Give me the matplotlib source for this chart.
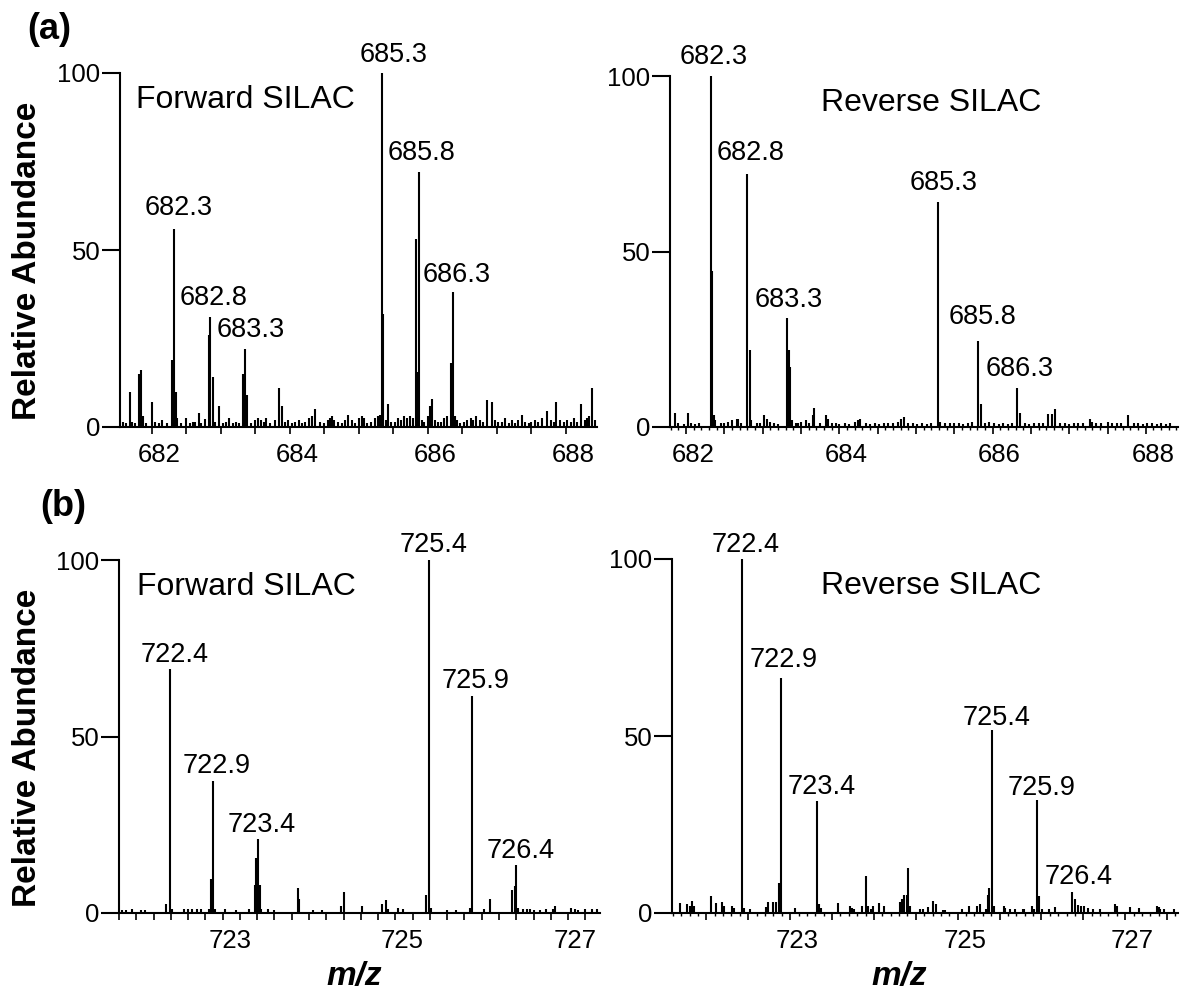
import matplotlib
matplotlib.use('Agg')
import matplotlib.pyplot as plt
from matplotlib.ticker import MultipleLocator, FuncFormatter
from matplotlib.transforms import ScaledTranslation

plt.rcParams['font.family'] = ['Liberation Sans', 'DejaVu Sans']

# --- Data: (a) Forward SILAC, m/z ~682-688 ---
a_fwd_mz = [681.58, 681.62, 681.68, 681.72, 681.76, 681.81, 681.84, 681.87, 681.92, 682.00,
            682.05, 682.10, 682.15, 682.22, 682.30, 682.32, 682.35, 682.37, 682.42, 682.50,
            682.55, 682.60, 682.63, 682.68, 682.72, 682.77, 682.83, 682.85, 682.88, 682.92,
            682.98, 683.03, 683.08, 683.12, 683.17, 683.22, 683.27, 683.32, 683.35, 683.38,
            683.44, 683.50, 683.54, 683.58, 683.62, 683.66, 683.72, 683.78, 683.84, 683.88,
            683.93, 683.98, 684.03, 684.08, 684.13, 684.18, 684.22, 684.28, 684.32, 684.37,
            684.44, 684.49, 684.55, 684.58, 684.61, 684.64, 684.70, 684.75, 684.80, 684.85,
            684.90, 684.95, 685.00, 685.04, 685.07, 685.12, 685.18, 685.24, 685.28, 685.31,
            685.33, 685.35, 685.39, 685.42, 685.47, 685.52, 685.57, 685.61, 685.65, 685.70,
            685.74, 685.78, 685.83, 685.85, 685.87, 685.91, 685.95, 686.00, 686.03, 686.06,
            686.10, 686.14, 686.19, 686.24, 686.28, 686.33, 686.37, 686.39, 686.42, 686.47,
            686.52, 686.57, 686.62, 686.66, 686.70, 686.75, 686.80, 686.86, 686.93, 686.97,
            687.02, 687.07, 687.12, 687.17, 687.22, 687.26, 687.31, 687.36, 687.41, 687.46,
            687.50, 687.55, 687.60, 687.65, 687.72, 687.78, 687.82, 687.86, 687.92, 687.97,
            688.02, 688.07, 688.12, 688.16, 688.22, 688.27, 688.31, 688.34, 688.38, 688.42]
a_fwd_int = [1.5, 1.0, 10.0, 1.5, 1.0, 15.0, 16.0, 3.0, 1.2, 7.0,
             1.5, 1.2, 2.0, 1.0, 19.0, 56.0, 10.0, 2.5, 1.0, 2.5,
             1.0, 1.5, 1.5, 4.0, 1.0, 2.2, 26.0, 31.0, 14.0, 1.5,
             6.0, 1.2, 1.5, 2.5, 1.0, 1.5, 1.0, 15.0, 22.0, 9.0,
             1.0, 2.0, 2.5, 2.0, 1.5, 2.5, 1.0, 2.0, 11.0, 6.0,
             1.5, 2.0, 1.0, 1.5, 2.0, 1.0, 1.5, 2.5, 3.0, 5.0,
             1.5, 1.0, 2.0, 2.5, 3.0, 2.0, 1.5, 1.0, 2.0, 3.4,
             2.0, 1.0, 2.5, 3.0, 2.5, 1.0, 1.5, 2.5, 3.0, 3.5,
             100.0, 32.0, 2.0, 6.5, 1.5, 1.5, 2.5, 2.0, 3.0, 2.5,
             3.0, 2.5, 53.0, 15.5, 72.0, 2.0, 1.5, 3.0, 6.0, 8.0,
             2.0, 1.5, 1.5, 2.5, 3.0, 18.0, 38.0, 3.0, 2.0, 1.0,
             1.5, 2.0, 2.5, 2.0, 3.0, 2.0, 1.5, 7.5, 7.0, 2.0,
             1.5, 1.5, 2.5, 1.0, 2.0, 1.0, 2.0, 3.4, 1.5, 1.0,
             1.5, 2.0, 1.5, 2.5, 4.5, 2.0, 1.5, 7.0, 2.0, 1.5,
             2.0, 1.5, 2.5, 1.5, 6.5, 2.0, 2.5, 3.0, 11.0, 2.0]
a_fwd_lab_mz = [682.32, 682.85, 683.35, 685.33, 685.87, 686.37]
a_fwd_lab_int = [56, 31, 22, 100, 72, 38]
a_fwd_lab_txt = ['682.3', '682.8', '683.3', '685.3', '685.8', '686.3']

# --- Data: (a) Reverse SILAC ---
a_rev_mz = [681.85, 681.90, 681.97, 682.03, 682.07, 682.12, 682.17, 682.32, 682.34, 682.36,
            682.38, 682.45, 682.50, 682.55, 682.60, 682.66, 682.68, 682.72, 682.80, 682.83,
            682.85, 682.92, 682.96, 683.02, 683.05, 683.10, 683.15, 683.20, 683.32, 683.34,
            683.36, 683.38, 683.43, 683.46, 683.50, 683.56, 683.60, 683.65, 683.67, 683.75,
            683.83, 683.85, 683.90, 683.95, 684.00, 684.08, 684.12, 684.20, 684.24, 684.27,
            684.35, 684.40, 684.46, 684.52, 684.58, 684.64, 684.70, 684.76, 684.80, 684.84,
            684.90, 684.96, 685.02, 685.08, 685.14, 685.20, 685.29, 685.32, 685.38, 685.44,
            685.50, 685.56, 685.62, 685.68, 685.73, 685.81, 685.85, 685.90, 685.95, 686.02,
            686.08, 686.14, 686.20, 686.26, 686.32, 686.36, 686.42, 686.48, 686.54, 686.60,
            686.66, 686.72, 686.77, 686.82, 686.88, 686.95, 687.00, 687.06, 687.12, 687.18,
            687.27, 687.30, 687.35, 687.42, 687.50, 687.56, 687.62, 687.68, 687.77, 687.84,
            687.90, 687.96, 688.02, 688.08, 688.14, 688.20, 688.26, 688.32]
a_rev_int = [4.0, 1.0, 0.8, 4.0, 1.0, 0.8, 1.0, 100.0, 44.5, 3.3,
             2.0, 1.0, 1.2, 1.5, 2.0, 2.4, 2.2, 1.0, 72.0, 22.0,
             2.0, 1.0, 1.2, 3.3, 2.4, 1.5, 1.0, 0.8, 31.0, 22.0,
             17.0, 2.0, 1.2, 1.0, 1.5, 2.0, 1.2, 3.3, 5.5, 1.0,
             3.3, 2.4, 1.2, 1.0, 0.8, 1.0, 0.8, 1.5, 2.0, 2.4,
             1.0, 0.8, 1.0, 0.8, 1.0, 1.0, 1.2, 1.5, 2.4, 2.9,
             1.2, 1.0, 0.8, 1.0, 0.8, 1.0, 64.0, 1.5, 1.0, 1.2,
             1.0, 1.0, 0.8, 1.2, 1.5, 24.5, 6.5, 1.0, 1.5, 1.0,
             0.8, 1.0, 0.8, 1.0, 11.0, 4.0, 1.0, 0.8, 1.0, 1.2,
             1.0, 3.8, 3.8, 5.0, 1.2, 1.0, 0.8, 1.0, 1.2, 1.0,
             2.4, 1.5, 1.0, 1.2, 1.4, 1.0, 1.0, 1.2, 3.3, 1.0,
             1.0, 0.8, 1.0, 1.0, 0.8, 1.0, 0.8, 1.0]
a_rev_lab_mz = [682.32, 682.80, 683.32, 685.29, 685.81, 686.32]
a_rev_lab_int = [100, 72, 31, 64, 24.5, 11]
a_rev_lab_txt = ['682.3', '682.8', '683.3', '685.3', '685.8', '686.3']

# --- Data: (b) Forward SILAC, m/z ~722-727 ---
b_fwd_mz = [721.84, 721.88, 721.95, 722.05, 722.10, 722.34, 722.39, 722.41, 722.55, 722.60,
            722.64, 722.70, 722.75, 722.84, 722.87, 722.89, 722.91, 723.03, 723.15, 723.30,
            723.37, 723.39, 723.41, 723.43, 723.45, 723.52, 723.60, 723.87, 723.89, 724.05,
            724.15, 724.37, 724.41, 724.61, 724.85, 724.89, 724.92, 725.03, 725.09, 725.35,
            725.39, 725.41, 725.60, 725.70, 725.87, 725.89, 726.03, 726.10, 726.35, 726.38,
            726.40, 726.42, 726.48, 726.52, 726.56, 726.60, 726.68, 726.75, 726.83, 726.85,
            727.03, 727.08, 727.12, 727.20, 727.28, 727.33]
b_fwd_int = [0.8, 0.8, 1.0, 0.8, 0.8, 2.6, 69.0, 1.0, 1.0, 1.0,
             1.0, 1.2, 1.0, 1.2, 9.6, 37.5, 1.0, 1.0, 0.8, 1.2,
             8.0, 15.6, 21.0, 8.0, 1.0, 1.0, 0.8, 7.0, 4.0, 0.8,
             0.8, 2.0, 6.0, 2.0, 2.6, 3.6, 1.0, 1.4, 1.2, 5.0,
             100.0, 1.4, 0.8, 0.8, 1.4, 61.5, 1.0, 4.0, 6.4, 7.7,
             13.7, 1.5, 1.0, 1.0, 1.0, 0.8, 0.8, 1.0, 1.2, 2.0,
             1.5, 1.0, 0.8, 1.0, 1.0, 1.0]
b_fwd_lab_mz = [722.39, 722.89, 723.41, 725.39, 725.89, 726.40]
b_fwd_lab_int = [69, 37.5, 21, 100, 61.5, 13.7]
b_fwd_lab_txt = ['722.4', '722.9', '723.4', '725.4', '725.9', '726.4']

# --- Data: (b) Reverse SILAC ---
b_rev_mz = [721.68, 721.77, 721.81, 721.83, 721.85, 722.05, 722.11, 722.19, 722.21, 722.31,
            722.33, 722.43, 722.45, 722.52, 722.71, 722.73, 722.80, 722.83, 722.87, 722.89,
            723.06, 723.32, 723.35, 723.37, 723.57, 723.71, 723.74, 723.76, 723.86, 723.90,
            723.93, 723.96, 723.99, 724.06, 724.12, 724.31, 724.33, 724.36, 724.39, 724.41,
            724.43, 724.55, 724.59, 724.64, 724.71, 724.74, 724.83, 724.85, 725.05, 725.13,
            725.23, 725.27, 725.34, 725.36, 725.37, 725.41, 725.43, 725.55, 725.57, 725.62,
            725.69, 725.78, 725.79, 725.89, 725.91, 725.95, 725.97, 726.01, 726.09, 726.16,
            726.37, 726.40, 726.44, 726.47, 726.51, 726.56, 726.61, 726.70, 726.88, 726.90,
            727.06, 727.16, 727.38, 727.40, 727.42, 727.46, 727.58]
b_rev_int = [2.8, 2.5, 2.0, 3.5, 2.0, 4.7, 2.8, 3.0, 2.0, 2.0,
             1.5, 100.0, 1.5, 1.0, 1.8, 3.0, 3.2, 3.0, 8.5, 66.4,
             1.5, 31.5, 2.5, 1.5, 2.8, 2.0, 1.5, 1.2, 2.0, 10.5,
             2.0, 1.2, 2.0, 2.8, 2.0, 3.0, 4.0, 5.0, 5.2, 12.8,
             2.0, 1.0, 1.2, 1.8, 3.5, 2.5, 0.8, 0.8, 1.0, 2.0,
             2.0, 2.5, 1.0, 5.0, 7.2, 51.8, 2.0, 2.0, 1.5, 1.0,
             1.0, 1.0, 1.0, 2.0, 1.0, 32.0, 4.8, 1.0, 1.0, 1.8,
             6.0, 4.0, 2.2, 2.0, 2.0, 1.5, 1.0, 1.0, 2.5, 2.0,
             1.8, 1.5, 2.0, 1.8, 1.2, 1.0, 1.2]
b_rev_lab_mz = [722.43, 722.89, 723.32, 725.41, 725.95, 726.37]
b_rev_lab_int = [100, 66.4, 31.5, 51.8, 32, 6]
b_rev_lab_txt = ['722.4', '722.9', '723.4', '725.4', '725.9', '726.4']

# --- Layout (pixels on a 1191x994 canvas) ---
W, H, DPI = 1191, 994, 100
TICK_FS = 18.5
PEAK_FS = 19.5
TITLE_FS = 23

fig = plt.figure(figsize=(W / DPI, H / DPI), dpi=DPI)


def axes_px(left, right, top, bottom):
    return fig.add_axes([left / W, 1 - bottom / H, (right - left) / W, (bottom - top) / H])


def draw_panel(ax, mz, inten, lab_mz, lab_int, lab_txt, lab_off, xlim,
               major, minor, labelled, title, title_x):
    ax.vlines(mz, 0, inten, colors='black', lw=1.5)
    for x, y, t, (dx, dy) in zip(lab_mz, lab_int, lab_txt, lab_off):
        ax.annotate(t, (x, y), xytext=(dx, dy), textcoords='offset pixels',
                    ha='center', va='baseline', fontsize=PEAK_FS, annotation_clip=False)
    ax.text(title_x, 0.90, title, transform=ax.transAxes, fontsize=TITLE_FS,
            ha='left', va='baseline')

    ax.set_xlim(*xlim)
    ax.set_ylim(0, 100)
    for side in ('top', 'right'):
        ax.spines[side].set_visible(False)
    for side in ('left', 'bottom'):
        ax.spines[side].set_linewidth(1.5)

    ax.set_yticks([0, 50, 100])
    ax.tick_params(axis='y', length=13, width=1.5, pad=1, labelsize=TICK_FS)
    ax.xaxis.set_major_locator(MultipleLocator(major))
    if minor:
        ax.xaxis.set_minor_locator(MultipleLocator(minor))
    ax.xaxis.set_major_formatter(FuncFormatter(
        lambda v, p: '%d' % round(v) if abs(v - round(v)) < 1e-6 and round(v) in labelled else ''))
    ax.tick_params(axis='x', which='major', length=5, width=1.2, pad=6.5, labelsize=TICK_FS)
    ax.tick_params(axis='x', which='minor', length=2.2, width=1.0)

    # tick labels sit a little right of their ticks in the original
    shift = ScaledTranslation(0.07, 0, fig.dpi_scale_trans)
    for tk in ax.xaxis.get_major_ticks():
        tk.label1.set_transform(tk.label1.get_transform() + shift)


ax1 = axes_px(120, 597, 73, 427)
draw_panel(ax1, a_fwd_mz, a_fwd_int, a_fwd_lab_mz, a_fwd_lab_int, a_fwd_lab_txt,
           [(5, 14), (3, 12), (6, 12.5), (11.5, 10.5), (3, 12.5), (3, 10.5)],
           (681.54, 688.45), 0.5, None, [682, 684, 686, 688], 'Forward SILAC', 0.034)

ax2 = axes_px(670, 1178, 76, 427)
draw_panel(ax2, a_rev_mz, a_rev_int, a_rev_lab_mz, a_rev_lab_int, a_rev_lab_txt,
           [(3, 12.5), (3.5, 14), (1.5, 11.5), (5, 12.5), (4, 17), (2.5, 12.5)],
           (681.79, 688.42), 0.5, 0.1, [682, 684, 686, 688], 'Reverse SILAC', 0.297)

ax3 = axes_px(119, 600, 560, 913)
draw_panel(ax3, b_fwd_mz, b_fwd_int, b_fwd_lab_mz, b_fwd_lab_int, b_fwd_lab_txt,
           [(5, 7), (3, 7.5), (4, 7), (4.5, 8.5), (3, 7.5), (4, 7)],
           (721.80, 727.37), 0.2, None, [723, 725, 727], 'Forward SILAC', 0.037)

ax4 = axes_px(672, 1178, 559, 913)
draw_panel(ax4, b_rev_mz, b_rev_int, b_rev_lab_mz, b_rev_lab_int, b_rev_lab_txt,
           [(3.5, 7.5), (3, 11), (4.5, 7), (5, 5), (4, 5), (6, 7.5)],
           (721.59, 727.63), 0.5, 0.1, [723, 725, 727], 'Reverse SILAC', 0.294)

# figure-level labels
fig.text(27 / W, 1 - 12 / H, '(a)', fontsize=26, fontweight='bold', ha='left', va='top')
fig.text(40 / W, 1 - 489 / H, '(b)', fontsize=26, fontweight='bold', ha='left', va='top')
for yc in (261, 748):
    fig.text(28 / W, 1 - yc / H, 'Relative Abundance', rotation=90, fontsize=24,
             fontweight='bold', ha='center', va='center')
for xc in (354, 899):
    fig.text(xc / W, 1 - 976 / H, 'm/z', fontsize=24, fontweight='bold', style='italic',
             ha='center', va='center')

fig.savefig('out.png', dpi=DPI)
